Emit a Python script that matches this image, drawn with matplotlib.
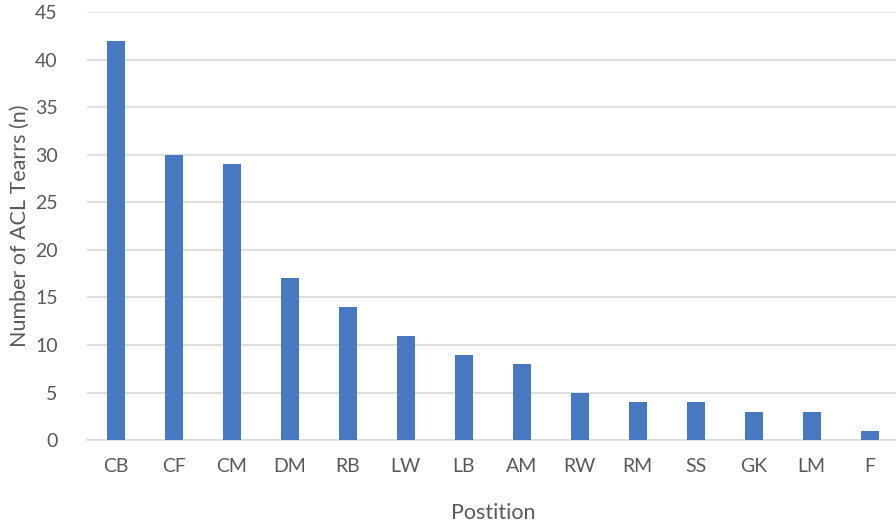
import matplotlib
matplotlib.use('Agg')
import matplotlib.pyplot as plt

TEXT_COLOR = '#595959'
BAR_COLOR = '#4878c0'
GRID_COLOR = '#D9D9D9'

positions = ['CB', 'CF', 'CM', 'DM', 'RB', 'LW', 'LB', 'AM', 'RW', 'RM', 'SS', 'GK', 'LM', 'F']
tears = [42, 30, 29, 17, 14, 11, 9, 8, 5, 4, 4, 3, 3, 1]
y_ticks = [0, 5, 10, 15, 20, 25, 30, 35, 40, 45]

plt.rcParams['font.family'] = ['Lato', 'DejaVu Sans']

fig = plt.figure(figsize=(8.96, 5.24), dpi=100)
ax = fig.add_axes([0.097, 0.160, 0.906, 0.817])

x = range(len(positions))
ax.bar(x, tears, width=0.31, color=BAR_COLOR, zorder=3)

ax.set_xlim(-0.5, len(positions) - 0.5)
ax.set_ylim(0, 45)
ax.set_yticks(y_ticks)
ax.set_xticks(list(x))
ax.set_xticklabels(positions)
ax.yaxis.grid(True, color=GRID_COLOR, linewidth=1.2, zorder=0)
ax.set_axisbelow(True)

for side in ['top', 'right', 'left']:
    ax.spines[side].set_visible(False)
ax.spines['bottom'].set_color(GRID_COLOR)
ax.spines['bottom'].set_linewidth(1.2)

ax.tick_params(axis='both', length=0, labelsize=14, labelcolor=TEXT_COLOR)
ax.tick_params(axis='x', pad=13)
ax.tick_params(axis='y', pad=21)

ax.set_xlabel('Postition', fontsize=15.5, color=TEXT_COLOR, labelpad=20)
ax.set_ylabel('Number of ACL Tearrs (n)', fontsize=15.5, color=TEXT_COLOR, labelpad=4)

fig.savefig('out.png', dpi=100)
